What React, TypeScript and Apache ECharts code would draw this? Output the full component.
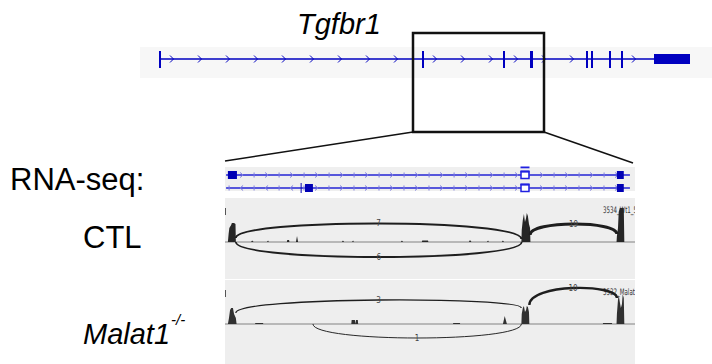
import React, { useEffect, useRef } from 'react';
import * as echarts from 'echarts';

// ---------- data ----------
const GENE_NAME = 'Tgfbr1';
const TOP_RANGE = [0, 57.2]; // kb
const GENE_SPAN = [2.0, 55.0];
const GENE_EXONS = [
  [1.9, 2.1], [28.2, 28.4], [36.3, 36.5], [39.0, 39.3], [44.6, 44.8],
  [45.1, 45.3], [46.9, 47.1], [48.1, 48.3], [51.4, 55.0],
];
const ZOOM_REGION = [27.3, 40.4];
const LOWER_RANGE = [28.1, 39.43];

// [row, start, end, strand]
const TX_INTRONS = [
  [0, 28.13, 39.29, 1],
  [1, 28.13, 30.2, -1],
  [1, 30.2, 39.29, 1],
];
// [row, start, end, type] type 0 = filled, 1 = open
const TX_EXONS = [
  [0, 28.18, 28.43, 0],
  [0, 36.28, 36.5, 1],
  [0, 38.93, 39.12, 0],
  [1, 30.19, 30.21, 0],
  [1, 30.31, 30.53, 0],
  [1, 36.28, 36.5, 1],
  [1, 38.93, 39.12, 0],
];

const CTL_COVERAGE = [
  [28.1, 0],
  [28.18, 0], [28.2, 8], [28.22, 14], [28.27, 17], [28.29, 19], [28.35, 19], [28.39, 18], [28.4, 0],
  [28.82, 0], [28.85, 1.5], [28.89, 0],
  [29.26, 0], [29.29, 1.5], [29.31, 0],
  [29.81, 0], [29.82, 2], [29.87, 2], [29.88, 0],
  [30.06, 0], [30.09, 6], [30.12, 0],
  [31.33, 0], [31.36, 1.5], [31.39, 0],
  [31.61, 0], [31.64, 1.5], [31.66, 0],
  [32.96, 0], [32.99, 1.5], [33.02, 0],
  [33.54, 0], [33.55, 1.5], [33.71, 1.5], [33.72, 0],
  [34.84, 0], [34.87, 2], [34.91, 0],
  [35.34, 0], [35.37, 1.5], [35.39, 0],
  [35.75, 0], [35.78, 1.5], [35.81, 0],
  [36.29, 0], [36.3, 12], [36.33, 22], [36.36, 28], [36.39, 20], [36.42, 24], [36.44, 29], [36.47, 26], [36.5, 18], [36.53, 14], [36.54, 0],
  [38.92, 0], [38.93, 6], [38.96, 14], [38.98, 30], [39.01, 34], [39.12, 34], [39.135, 0],
  [39.43, 0],
];

const MALAT_COVERAGE = [
  [28.1, 0],
  [28.18, 0], [28.21, 6], [28.24, 14], [28.27, 16], [28.32, 16], [28.35, 10], [28.4, 6], [28.42, 0],
  [28.93, 0], [28.94, 1], [29.15, 1], [29.16, 0],
  [31.59, 0], [31.6, 4], [31.69, 4], [31.7, 0], [31.71, 0], [31.72, 4], [31.77, 4], [31.78, 0],
  [34.4, 0], [34.41, 1], [34.59, 1], [34.6, 0],
  [35.78, 0], [35.83, 8], [35.89, 0],
  [36.29, 0], [36.3, 10], [36.33, 16], [36.36, 18], [36.39, 12], [36.42, 14], [36.44, 18], [36.47, 17], [36.5, 12], [36.51, 0],
  [38.54, 0], [38.55, 1], [38.79, 1], [38.8, 0],
  [38.92, 0], [38.93, 10], [38.96, 24], [38.98, 29], [39.01, 22], [39.04, 16], [39.07, 20], [39.09, 30], [39.12, 26], [39.135, 0],
  [39.43, 0],
];

// [start, end, yStart, yEnd, apex, count]
const CTL_JUNCTIONS = [
  [28.4, 36.29, 4, 3, 18.5, 7],
  [28.4, 36.3, 0, 0, -15, 6],
  [36.53, 38.93, 7, 8, 18, 19],
];
const MALAT_JUNCTIONS = [
  [28.4, 36.29, 11, 16, 24, 3],
  [30.53, 36.29, 0, 0, -14, 1],
  [36.51, 38.93, 19, 26, 36, 10],
];

const TRACK_NAMES = ['3534_Wt1_5', '3532_Malat1_5'];
const ROW_LABELS = ['RNA-seq:', 'CTL', 'Malat1', '-/-'];

// ---------- styles / layout ----------
const BLUE = '#0000c0';
const TX_LINE = '#2525d4';
const GLYPH = '#7c7ce0';
const FONT = '"Liberation Sans", Arial, sans-serif';
const NARROW = '"Liberation Sans Narrow", "DejaVu Sans Condensed", sans-serif';
const BOX_TOP = 33;
const BOX_BOTTOM = 132;
const LOWER_LEFT = 225;
const LOWER_WIDTH = 410;

function introns(exons: number[][]) {
  const out: number[][] = [];
  for (let i = 0; i < exons.length - 1; i++) out.push([exons[i][1], exons[i + 1][0]]);
  return out;
}

export default function App() {
  const ref = useRef<HTMLDivElement>(null);

  useEffect(() => {
    if (!ref.current) return;
    const chart = echarts.init(ref.current, undefined, { renderer: 'svg' });

    const trackDecor = (name: string) => (params: any, api: any) => {
      const cs = params.coordSys;
      const y0 = api.coord([LOWER_RANGE[0], 0])[1];
      return {
        type: 'group',
        children: [
          { type: 'line', shape: { x1: cs.x, y1: y0, x2: cs.x + cs.width, y2: y0 }, style: { stroke: '#a6a6a6', lineWidth: 1.5 } },
          { type: 'line', shape: { x1: cs.x + 0.5, y1: cs.y + 10, x2: cs.x + 0.5, y2: cs.y + 17 }, style: { stroke: '#555', lineWidth: 1 } },
          {
            type: 'text',
            x: cs.x + cs.width - 32,
            y: cs.y + 12,
            scaleX: 0.68,
            style: { text: name, x: 0, y: 0, fill: '#333', fontSize: 9, fontFamily: NARROW, align: 'left', verticalAlign: 'middle' },
          },
        ],
      };
    };

    const arcRender = (params: any, api: any) => {
      const s = api.value(0), e = api.value(1);
      const p0 = api.coord([s, api.value(2)]);
      const p3 = api.coord([e, api.value(3)]);
      const mid = api.coord([(s + e) / 2, api.value(4)]);
      const count = api.value(5);
      const yc = (mid[1] - (p0[1] + p3[1]) / 8) / 0.75;
      const lw = Math.min(3, 0.8 + count * 0.16);
      return {
        type: 'group',
        children: [
          {
            type: 'bezierCurve',
            shape: { x1: p0[0], y1: p0[1], x2: p3[0], y2: p3[1], cpx1: p0[0], cpy1: yc, cpx2: p3[0], cpy2: yc },
            style: { stroke: '#1e1e1e', lineWidth: lw, fill: 'none' },
          },
          {
            type: 'text',
            style: { text: String(count), x: mid[0], y: mid[1], fill: '#444', fontSize: 8, fontFamily: NARROW, align: 'center', verticalAlign: 'middle' },
          },
        ],
      };
    };

    const option: any = {
      animation: false,
      backgroundColor: '#ffffff',
      grid: [
        { left: 140, top: 47, width: 572, height: 31, show: true, backgroundColor: '#f7f7f7', borderWidth: 0 },
        { left: LOWER_LEFT, top: 167, width: LOWER_WIDTH, height: 24, show: true, backgroundColor: '#efefef', borderWidth: 0 },
        { left: LOWER_LEFT, top: 198, width: LOWER_WIDTH, height: 81, show: true, backgroundColor: '#eeeeee', borderWidth: 0 },
        { left: LOWER_LEFT, top: 280, width: LOWER_WIDTH, height: 84, show: true, backgroundColor: '#eeeeee', borderWidth: 0 },
      ],
      xAxis: [
        { type: 'value', gridIndex: 0, min: TOP_RANGE[0], max: TOP_RANGE[1], show: false },
        { type: 'value', gridIndex: 1, min: LOWER_RANGE[0], max: LOWER_RANGE[1], show: false },
        { type: 'value', gridIndex: 2, min: LOWER_RANGE[0], max: LOWER_RANGE[1], show: false },
        { type: 'value', gridIndex: 3, min: LOWER_RANGE[0], max: LOWER_RANGE[1], show: false },
      ],
      yAxis: [
        { type: 'value', gridIndex: 0, min: -19, max: 12, show: false },
        { type: 'value', gridIndex: 1, min: -0.6154, max: 1.2308, inverse: true, show: false },
        { type: 'value', gridIndex: 2, min: -37, max: 44, show: false },
        { type: 'value', gridIndex: 3, min: -40, max: 44, show: false },
      ],
      series: [
        {
          type: 'custom', xAxisIndex: 0, yAxisIndex: 0, data: [GENE_SPAN],
          renderItem: (p: any, api: any) => {
            const a = api.coord([api.value(0), 0]);
            const b = api.coord([api.value(1), 0]);
            return { type: 'line', shape: { x1: a[0], y1: a[1], x2: b[0], y2: b[1] }, style: { stroke: BLUE, lineWidth: 1.5 } };
          },
        },
        {
          type: 'custom', xAxisIndex: 0, yAxisIndex: 0, data: introns(GENE_EXONS),
          renderItem: (p: any, api: any) => {
            const a = api.coord([api.value(0), 0]);
            const b = api.coord([api.value(1), 0]);
            const children: any[] = [];
            for (let x = a[0] + 11; x < b[0] - 5; x += 28) {
              children.push({
                type: 'polyline',
                shape: { points: [[x - 2, a[1] - 3.5], [x + 1.5, a[1]], [x - 2, a[1] + 3.5]] },
                style: { stroke: BLUE, lineWidth: 1, fill: 'none' },
              });
            }
            return { type: 'group', children };
          },
        },
        {
          type: 'custom', xAxisIndex: 0, yAxisIndex: 0, data: GENE_EXONS,
          renderItem: (p: any, api: any) => {
            const a = api.coord([api.value(0), 0]);
            const b = api.coord([api.value(1), 0]);
            const w = Math.max(1.6, b[0] - a[0]);
            const block = w > 6;
            return {
              type: 'rect',
              shape: { x: a[0], y: block ? a[1] - 5 : a[1] - 8, width: w, height: block ? 10 : 17 },
              style: { fill: BLUE },
            };
          },
        },
        {
          type: 'custom', xAxisIndex: 0, yAxisIndex: 0, data: [ZOOM_REGION], z: 10,
          renderItem: (p: any, api: any) => {
            const a = api.coord([api.value(0), 0]);
            const b = api.coord([api.value(1), 0]);
            return {
              type: 'group',
              children: [
                { type: 'rect', shape: { x: a[0], y: BOX_TOP, width: b[0] - a[0], height: BOX_BOTTOM - BOX_TOP }, style: { fill: 'none', stroke: '#111', lineWidth: 2.5 } },
                { type: 'line', shape: { x1: a[0], y1: BOX_BOTTOM, x2: LOWER_LEFT, y2: 161 }, style: { stroke: '#111', lineWidth: 1.5 } },
                { type: 'line', shape: { x1: b[0], y1: BOX_BOTTOM, x2: LOWER_LEFT + LOWER_WIDTH - 2, y2: 163 }, style: { stroke: '#111', lineWidth: 1.5 } },
              ],
            };
          },
        },
        {
          type: 'custom', xAxisIndex: 1, yAxisIndex: 1, data: TX_INTRONS,
          renderItem: (p: any, api: any) => {
            const row = api.value(0);
            const a = api.coord([api.value(1), row]);
            const b = api.coord([api.value(2), row]);
            const dir = api.value(3);
            const y = a[1];
            const children: any[] = [
              { type: 'line', shape: { x1: a[0], y1: y, x2: b[0], y2: y }, style: { stroke: TX_LINE, lineWidth: 1.5 } },
            ];
            let i = 0;
            for (let x = a[0] + 3; x < b[0] - 2; x += 12.5, i++) {
              if (i % 2 === 0) {
                children.push({ type: 'line', shape: { x1: x, y1: y - 2.5, x2: x, y2: y + 2.5 }, style: { stroke: GLYPH, lineWidth: 1 } });
              } else {
                const d = dir > 0 ? 1 : -1;
                children.push({
                  type: 'polyline',
                  shape: { points: [[x - 1.5 * d, y - 2.5], [x + 1.5 * d, y], [x - 1.5 * d, y + 2.5]] },
                  style: { stroke: GLYPH, lineWidth: 1, fill: 'none' },
                });
              }
            }
            return { type: 'group', children };
          },
        },
        {
          type: 'custom', xAxisIndex: 1, yAxisIndex: 1, data: TX_EXONS,
          renderItem: (p: any, api: any) => {
            const row = api.value(0);
            const a = api.coord([api.value(1), row]);
            const b = api.coord([api.value(2), row]);
            const w = Math.max(1, b[0] - a[0]);
            const y = a[1];
            if (api.value(3) === 0) {
              const h = w < 2 ? 10 : 8;
              return { type: 'rect', shape: { x: a[0], y: y - h / 2, width: w, height: h }, style: { fill: '#0000b4' } };
            }
            const children: any[] = [
              { type: 'rect', shape: { x: a[0], y: y - 3.5, width: w, height: 7 }, style: { fill: '#ffffff', stroke: '#2020e0', lineWidth: 1.5 } },
              { type: 'rect', shape: { x: a[0] - 0.5, y: y - 4.5, width: w + 1, height: 2 }, style: { fill: '#2020e0' } },
            ];
            if (row === 0) {
              children.push({ type: 'rect', shape: { x: a[0] - 0.5, y: y - 8.5, width: w + 1, height: 1.8 }, style: { fill: '#2020e0' } });
            }
            return { type: 'group', children };
          },
        },
        {
          type: 'custom', xAxisIndex: 2, yAxisIndex: 2, data: [[LOWER_RANGE[0]]], clip: true, z: 1,
          renderItem: trackDecor(TRACK_NAMES[0]),
        },
        {
          type: 'line', xAxisIndex: 2, yAxisIndex: 2, data: CTL_COVERAGE, symbol: 'none', z: 3,
          lineStyle: { width: 0, color: '#262626' }, areaStyle: { color: '#262626', opacity: 1 },
        },
        {
          type: 'custom', xAxisIndex: 2, yAxisIndex: 2, data: CTL_JUNCTIONS, z: 4,
          renderItem: arcRender,
        },
        {
          type: 'custom', xAxisIndex: 3, yAxisIndex: 3, data: [[LOWER_RANGE[0]]], clip: true, z: 1,
          renderItem: trackDecor(TRACK_NAMES[1]),
        },
        {
          type: 'line', xAxisIndex: 3, yAxisIndex: 3, data: MALAT_COVERAGE, symbol: 'none', z: 3,
          lineStyle: { width: 0, color: '#303030' }, areaStyle: { color: '#303030', opacity: 1 },
        },
        {
          type: 'custom', xAxisIndex: 3, yAxisIndex: 3, data: MALAT_JUNCTIONS, z: 4,
          renderItem: arcRender,
        },
      ],
      graphic: [
        { type: 'text', x: 297, y: 23.5, style: { text: GENE_NAME, fill: '#000', fontSize: 29, fontStyle: 'italic', fontFamily: FONT, verticalAlign: 'middle' } },
        { type: 'text', x: 10, y: 179.5, style: { text: ROW_LABELS[0], fill: '#000', fontSize: 31, fontFamily: FONT, verticalAlign: 'middle' } },
        { type: 'text', x: 83, y: 237, style: { text: ROW_LABELS[1], fill: '#000', fontSize: 31, fontFamily: FONT, verticalAlign: 'middle' } },
        { type: 'text', x: 83, y: 334, style: { text: ROW_LABELS[2], fill: '#000', fontSize: 29, fontStyle: 'italic', fontFamily: FONT, verticalAlign: 'middle' } },
        { type: 'text', x: 171, y: 319, style: { text: ROW_LABELS[3], fill: '#000', fontSize: 15, fontStyle: 'italic', fontFamily: FONT, verticalAlign: 'middle' } },
      ],
    };

    chart.setOption(option);
    return () => chart.dispose();
  }, []);

  return <div ref={ref} style={{ position: 'fixed', left: 0, top: 0, width: 712, height: 364 }} />;
}
